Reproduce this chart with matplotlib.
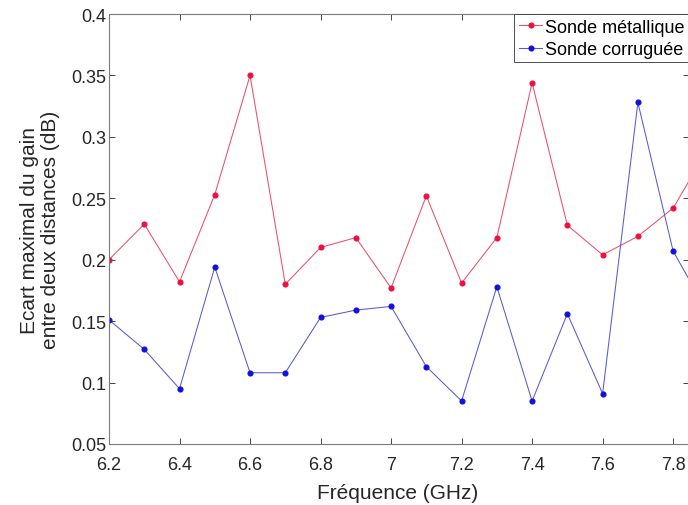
import matplotlib
matplotlib.use("Agg")
import matplotlib.pyplot as plt

plt.rcParams['font.family'] = ['Liberation Sans', 'DejaVu Sans']

freq = [6.2, 6.3, 6.4, 6.5, 6.6, 6.7, 6.8, 6.9, 7.0, 7.1, 7.2, 7.3, 7.4, 7.5, 7.6, 7.7, 7.8, 7.9]
metal = [0.200, 0.229, 0.182, 0.253, 0.350, 0.180, 0.210, 0.218, 0.177, 0.252, 0.181,
         0.218, 0.344, 0.228, 0.204, 0.219, 0.242, 0.291]
corr = [0.151, 0.127, 0.095, 0.194, 0.108, 0.108, 0.153, 0.159, 0.162, 0.113, 0.085,
        0.178, 0.085, 0.156, 0.091, 0.328, 0.207, 0.156]
xticks = [6.2, 6.4, 6.6, 6.8, 7.0, 7.2, 7.4, 7.6, 7.8]
xticklabels = ['6.2', '6.4', '6.6', '6.8', '7', '7.2', '7.4', '7.6', '7.8']
yticks = [0.05, 0.1, 0.15, 0.2, 0.25, 0.3, 0.35, 0.4]
yticklabels = ['0.05', '0.1', '0.15', '0.2', '0.25', '0.3', '0.35', '0.4']

W, H = 688, 506
fig = plt.figure(figsize=(W / 100, H / 100), dpi=100)
left, right, top, bottom = 109, 689, 15, 445
ax = fig.add_axes([left / W, 1 - bottom / H, (right - left) / W, (bottom - top) / H])

ax.plot(freq, metal, color='#e8506a', lw=0.75, marker='o', ms=3.4,
        mfc='#ee1040', mec='#ee1040', label='Sonde métallique')
ax.plot(freq, corr, color='#5a5ad0', lw=0.75, marker='o', ms=3.4,
        mfc='#1010e0', mec='#1010e0', label='Sonde corruguée')

ax.set_xlim(6.2, 7.845)
ax.set_ylim(0.05, 0.4)
ax.set_xticks(xticks)
ax.set_xticklabels(xticklabels)
ax.set_yticks(yticks)
ax.set_yticklabels(yticklabels)
ax.tick_params(direction='in', top=True, right=True, length=4.5, width=0.6,
               labelsize=13, colors='#262626')
ax.tick_params(axis='x', pad=9)
ax.tick_params(axis='y', pad=2)
for s in ax.spines.values():
    s.set_color('#7a7a7a')
    s.set_linewidth(0.8)

fig.text(398 / W, 1 - 494 / H, 'Fréquence (GHz)', fontsize=15, color='#262626',
         ha='center', va='center')
fig.text(40 / W, 1 - 230 / H, 'Ecart maximal du gain\nentre deux distances (dB)',
         fontsize=15, color='#262626', ha='center', va='center', rotation=90,
         linespacing=1.1, multialignment='center')

leg = ax.legend(loc='upper right', borderaxespad=0, fontsize=13, fancybox=False,
                handlelength=1.3, handletextpad=0.15, borderpad=0.25,
                labelspacing=0.3, framealpha=1)
leg.get_frame().set_edgecolor('#333333')
leg.get_frame().set_linewidth(0.6)

fig.savefig('out.png', dpi=100)
